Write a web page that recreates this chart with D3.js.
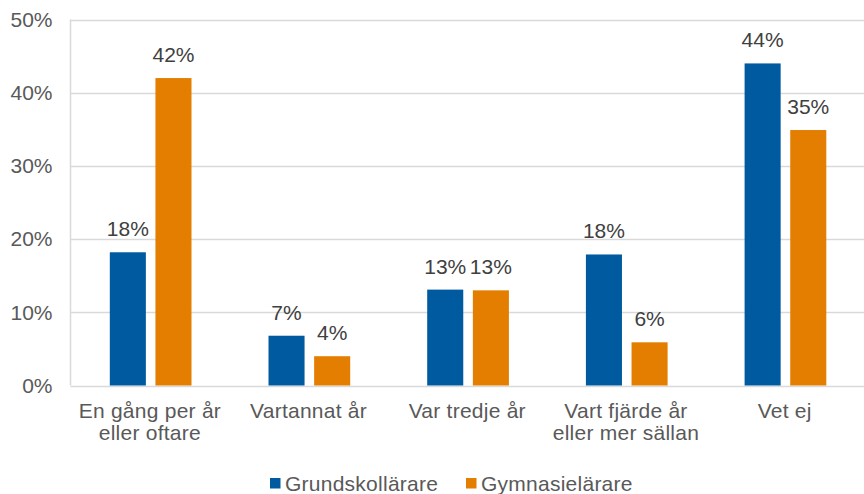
<!DOCTYPE html>
<html><head><meta charset="utf-8">
<script src="https://cdn.jsdelivr.net/npm/d3@7"></script>
<style>body{margin:0;background:#fff}svg{display:block;font-family:"Liberation Sans",Arial,sans-serif}</style>
</head><body><svg id="c" width="864" height="494"></svg>
<script>
const categories = [["En gång per år","eller oftare"],["Vartannat år"],["Var tredje år"],["Vart fjärde år","eller mer sällan"],["Vet ej"]];
const seriesNames = ["Grundskollärare","Gymnasielärare"];
const grundskol = [18.2, 6.8, 13.1, 17.9, 44.0];
const gymnasie = [42.0, 4.0, 13.0, 5.9, 34.9];
const valueLabels = [["18%","7%","13%","18%","44%"],["42%","4%","13%","6%","35%"]];
const yTicks = [0,10,20,30,40,50];
const colors = ["#005AA0","#E37E00"];

(function(){
const FS = 21, LS = 0.25;
const svg = d3.select("#c");
const pl = 70.5, pr = 864, pt = 19.5, pb = 385.5;
const x = d3.scaleBand().domain(d3.range(categories.length)).range([pl, pr]).paddingInner(0).paddingOuter(0);
const y = d3.scaleLinear().domain([0,50]).range([pb, pt]);
const xs = d3.scaleBand().domain([0,1]).range([0, 81.7]).paddingInner(0.21);
const groupOffset = (x.bandwidth() - 81.7)/2 + 0.8;

svg.append("g").selectAll("line").data(yTicks).join("line")
  .attr("x1", pl).attr("x2", pr)
  .attr("y1", d=>Math.round(y(d))+0.5).attr("y2", d=>Math.round(y(d))+0.5)
  .attr("stroke", "#d9d9d9").attr("stroke-width", 1.5);
svg.append("line").attr("x1", pl).attr("x2", pl).attr("y1", pt).attr("y2", pb)
  .attr("stroke", "#d9d9d9").attr("stroke-width", 1.5);

const yAxis = d3.axisLeft(y).tickValues(yTicks).tickFormat(d=>d+"%").tickSize(0).tickPadding(18);
const ya = svg.append("g").attr("transform", `translate(${pl},0)`).call(yAxis);
ya.select(".domain").remove();
ya.selectAll("text").attr("font-size", FS).attr("fill", "#595959").attr("font-family", "Liberation Sans, Arial, sans-serif");

const data = [grundskol, gymnasie];
data.forEach((vals, s) => {
  svg.append("g").selectAll("rect").data(vals).join("rect")
    .attr("x", (d,i)=>x(i)+groupOffset+xs(s))
    .attr("width", xs.bandwidth())
    .attr("y", d=>y(d)).attr("height", d=>y(0)-y(d))
    .attr("fill", colors[s]);
  svg.append("g").selectAll("text").data(vals).join("text")
    .attr("x", (d,i)=>x(i)+groupOffset+xs(s)+xs.bandwidth()/2)
    .attr("y", d=>y(d)-16)
    .attr("text-anchor","middle").attr("font-size",FS).attr("fill","#404040")
    .text((d,i)=>valueLabels[s][i]);
});

const cg = svg.append("g").selectAll("text").data(categories).join("text")
  .attr("x", (d,i)=>x(i)+x.bandwidth()/2).attr("y", 418)
  .attr("text-anchor","middle").attr("font-size",FS).attr("letter-spacing",LS).attr("fill","#595959");
cg.selectAll("tspan").data(d=>d).join("tspan")
  .attr("x", function(){return this.parentNode.getAttribute("x");})
  .attr("dy", (d,i)=>i===0?0:22).text(d=>d);

const legX = [270, 466];
seriesNames.forEach((n,s)=>{
  svg.append("rect").attr("x", legX[s]).attr("y", 478).attr("width", 10.5).attr("height", 10.5).attr("fill", colors[s]);
  svg.append("text").attr("x", legX[s]+15).attr("y", 490.5).attr("font-size",FS).attr("letter-spacing",LS).attr("fill","#595959").text(n);
});
})();
</script></body></html>
